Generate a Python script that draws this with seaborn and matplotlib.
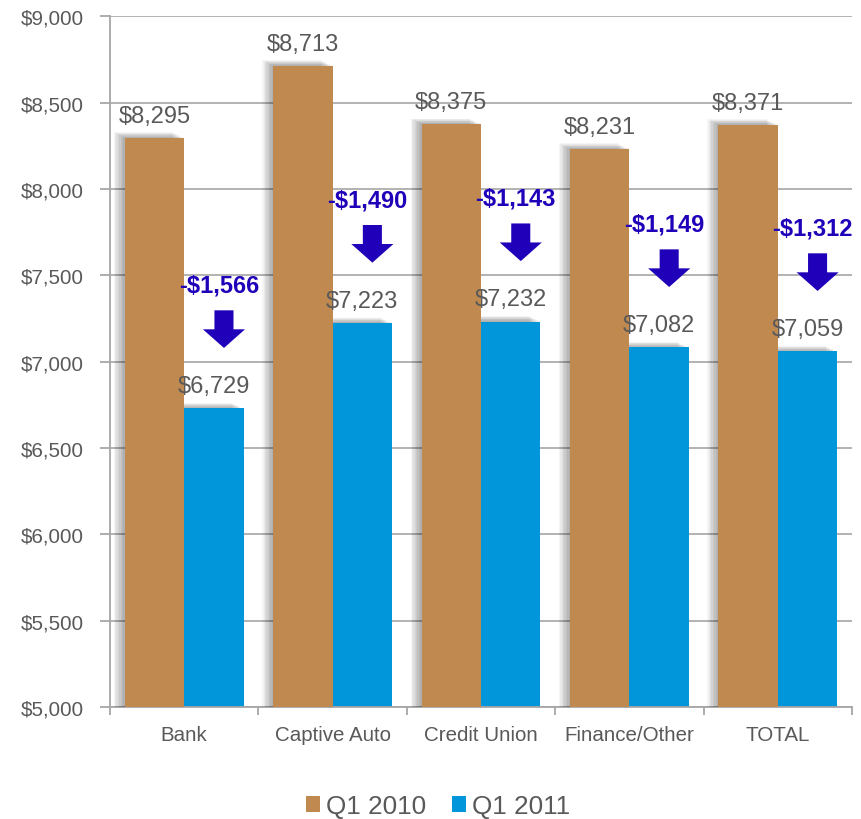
import matplotlib
matplotlib.use("Agg")
import matplotlib.pyplot as plt
import matplotlib.patheffects as pe
from matplotlib.patches import Patch
from matplotlib.ticker import FuncFormatter, FixedLocator
import seaborn as sns
import pandas as pd

# Average amount financed by lender type
categories = ["Bank", "Captive Auto", "Credit Union", "Finance/Other", "TOTAL"]
periods = ["Q1 2010", "Q1 2011"]
q1_2010 = [8295, 8713, 8375, 8231, 8371]
q1_2011 = [6729, 7223, 7232, 7082, 7059]
y_ticks = [5000, 5500, 6000, 6500, 7000, 7500, 8000, 8500, 9000]

BROWN = "#BF8950"
BLUE = "#0096D9"
ARROW = "#2000B8"
TEXT = "#595959"
GRID = "#A6A6A6"

df = pd.DataFrame({
    "category": categories * 2,
    "period": [periods[0]] * len(categories) + [periods[1]] * len(categories),
    "value": q1_2010 + q1_2011,
})

sns.set_theme(style="white")
plt.rcParams["font.family"] = ["Liberation Sans", "DejaVu Sans"]

fig = plt.figure(figsize=(8.62, 8.2), dpi=100)
ax = fig.add_axes([0.1276, 0.1366, 0.8608, 0.8424])

sns.barplot(data=df, x="category", y="value", hue="period",
            palette=[BROWN, BLUE], saturation=1, width=0.8,
            order=categories, hue_order=periods, legend=False, ax=ax)

# soft drop shadow on the bars (up and to the left)
shadow = [pe.SimplePatchShadow(offset=(-k, k * 0.5), shadow_rgbFace="black",
                               alpha=0.045) for k in range(8, 0, -1)]
shadow.append(pe.Normal())
for container, z in zip(ax.containers, (3, 2)):
    for patch in container:
        patch.set_path_effects(shadow)
        patch.set_edgecolor("none")
        patch.set_zorder(z)

for container in ax.containers:
    ax.bar_label(container, labels=[f"${v:,.0f}" for v in container.datavalues],
                 padding=8, fontsize=17, color=TEXT)

# change arrows between the two periods
for i, (a, b) in enumerate(zip(q1_2010, q1_2011)):
    diff = b - a
    xc = i + 0.2
    ax.arrow(xc + 0.068, b + 568, 0, -218, width=19 / 148, head_width=42 / 148,
             head_length=108, length_includes_head=True, color=ARROW, lw=0,
             zorder=5)
    ax.text(xc + 0.034, b + 715, f"-${abs(diff):,}", ha="center", va="center",
            fontsize=17, fontweight="bold", color=ARROW, zorder=5)

ax.set_ylim(5000, 9000)
ax.set_xlim(-0.5, len(categories) - 0.5)
ax.set_yticks(y_ticks)
ax.yaxis.set_major_formatter(FuncFormatter(lambda v, _: f"${v:,.0f}"))
ax.yaxis.grid(True, color=GRID, lw=1.2)
ax.set_axisbelow(True)
ax.set_xlabel("")
ax.set_ylabel("")

for side in ("top", "right"):
    ax.spines[side].set_visible(False)
for side in ("left", "bottom"):
    ax.spines[side].set_color(GRID)
    ax.spines[side].set_linewidth(1.3)

ax.tick_params(axis="y", which="major", direction="out", length=7, width=1.3,
               color=GRID, labelsize=14.8, labelcolor=TEXT, left=True, pad=12)
ax.tick_params(axis="x", which="major", length=0, labelsize=14.8,
               labelcolor=TEXT, pad=13)
ax.xaxis.set_minor_locator(FixedLocator([k - 0.5 for k in range(len(categories) + 1)]))
ax.tick_params(axis="x", which="minor", direction="out", length=6, width=1.3,
               color=GRID, bottom=True)

handles = [Patch(facecolor=c, edgecolor="none") for c in (BROWN, BLUE)]
fig.legend(handles, periods, loc="center", bbox_to_anchor=(0.508, 0.016),
           ncol=2, frameon=False, fontsize=18.8, labelcolor=TEXT,
           handlelength=0.55, handleheight=0.55, handletextpad=0.2,
           columnspacing=1.0, borderaxespad=0)

fig.savefig("out.png", dpi=100)
